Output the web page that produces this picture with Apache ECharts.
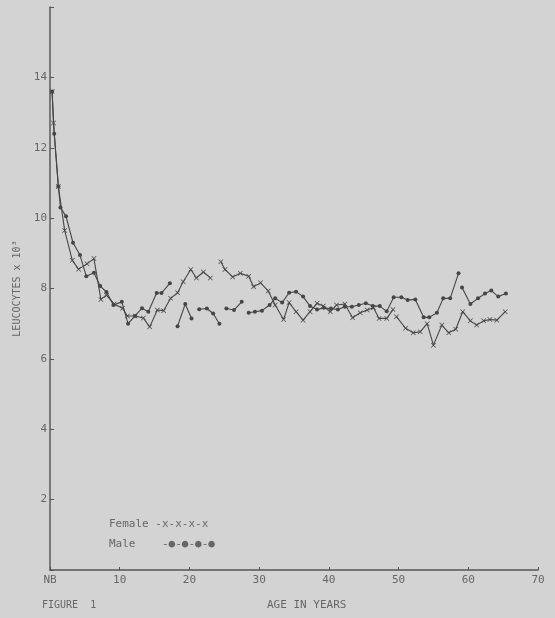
<!DOCTYPE html>
<html>
<head>
<meta charset="utf-8">
<script src="https://cdn.jsdelivr.net/npm/echarts@6/dist/echarts.min.js"></script>
<style>
html,body{margin:0;padding:0;background:#d3d3d3;}
#c{width:555px;height:618px;}
</style>
</head>
<body>
<div id="c"></div>
<script>
// ---- data ----
const xTicks = [0, 10, 20, 30, 40, 50, 60, 70];      // 0 shown as "NB"
const yTicks = [2, 4, 6, 8, 10, 12, 14];

const maleAges = [0.3, 0.6, 1.2, 1.5, 2.3, 3.3, 4.3, 5.2, 6.3, 7.2, 8.1, 9.1, 10.3, 11.2, 12.2, 13.2, 14.1, 15.3, 16, 17.2, 17.7,
  18.3, 19.4, 20.3, 20.8, 21.4, 22.5, 23.4, 24.3, 24.8, 25.3, 26.4, 27.5, 28, 28.5, 29.4, 30.4, 31.5, 32.3, 33.3, 34.3, 35.3, 36.3,
  37.3, 38.3, 39.3, 40.3, 41.3, 42.3, 43.3, 44.3, 45.3, 46.3, 47.3, 48.3, 49.3, 50.4, 51.3, 52.4, 53.6, 54.4, 55.5, 56.4, 57.4, 58.6, 58.9,
  59.1, 60.3, 61.4, 62.4, 63.3, 64.3, 65.4];
const maleValues = [13.6, 12.4, 10.9, 10.3, 10.05, 9.3, 8.95, 8.35, 8.45, 8.07, 7.9, 7.53, 7.62, 7.0, 7.22, 7.44, 7.34, 7.87, 7.87, 8.15, null,
  6.93, 7.56, 7.15, null, 7.41, 7.43, 7.29, 7.0, null, 7.43, 7.39, 7.62, null, 7.31, 7.34, 7.37, 7.53, 7.72, 7.6, 7.88, 7.91, 7.77,
  7.5, 7.4, 7.45, 7.43, 7.4, 7.48, 7.48, 7.53, 7.58, 7.5, 7.5, 7.35, 7.75, 7.75, 7.67, 7.69, 7.18, 7.18, 7.31, 7.72, 7.72, 8.43, null,
  8.03, 7.56, 7.72, 7.86, 7.94, 7.77, 7.86];

const femaleAges = [0.3, 0.5, 1.2, 2.1, 3.2, 4.1, 5.3, 6.3, 7.3, 8.1, 9.2, 10.4, 11.1, 12.2, 13.4, 14.3, 15.4, 16.3, 17.3, 18.3, 19.1, 20.2, 21, 22, 23, 23.8,
  24.5, 25.1, 26.2, 27.3, 28.5, 29.2, 30.2, 31.3, 32.3, 33.5, 34.3, 35.3, 36.3, 37.3, 38.3, 39.2, 40.2, 41.1, 42.3, 43.4, 44.5, 45.5, 46.4, 47.2, 48.3, 49.2, 49.5,
  49.7, 51, 52.1, 53.1, 54.1, 55, 56.2, 57.2, 58.2, 59.2, 60.3, 61.2, 62.2, 63.1, 64.1, 65.3];
const femaleValues = [13.6, 12.7, 10.9, 9.65, 8.8, 8.55, 8.7, 8.85, 7.69, 7.81, 7.56, 7.44, 7.22, 7.22, 7.16, 6.91, 7.39, 7.37, 7.72, 7.88, 8.19, 8.54, 8.3, 8.47, 8.3, null,
  8.76, 8.54, 8.33, 8.43, 8.35, 8.05, 8.16, 7.93, 7.53, 7.12, 7.6, 7.34, 7.1, 7.34, 7.58, 7.5, 7.34, 7.53, 7.56, 7.17, 7.31, 7.39, 7.45, 7.15, 7.15, 7.4, null,
  7.2, 6.87, 6.74, 6.77, 7.0, 6.39, 6.96, 6.74, 6.84, 7.34, 7.08, 6.96, 7.08, 7.12, 7.1, 7.34];

const pair = (xs, ys) => xs.map((x, i) => [x, ys[i]]);

const FONT = '"DejaVu Sans Mono", "Liberation Mono", monospace';
const INK = '#454545';
const TXT = '#666666';
const crossPath = 'path://M0,1L1,0L5,4L9,0L10,1L6,5L10,9L9,10L5,6L1,10L0,9L4,5Z';

const chart = echarts.init(document.getElementById('c'), null, {renderer: 'canvas'});
chart.setOption({
  backgroundColor: '#d3d3d3',
  animation: false,
  grid: {left: 50, right: 17, top: 7, bottom: 48},
  xAxis: {
    type: 'value', min: 0, max: 70, interval: 10,
    axisLine: {lineStyle: {color: '#555', width: 1.5}},
    axisTick: {show: true, inside: true, length: 3, lineStyle: {color: '#555'}},
    splitLine: {show: false},
    axisLabel: {
      color: TXT, fontFamily: FONT, fontSize: 11, margin: 5,
      formatter: v => xTicks.includes(v) ? (v === 0 ? 'NB' : String(v)) : ''
    }
  },
  yAxis: {
    type: 'value', min: 0, max: 16, interval: 2,
    axisLine: {show: true, lineStyle: {color: '#5a5a5a', width: 1.5}},
    axisTick: {show: true, inside: true, length: 4, lineStyle: {color: '#555'}},
    splitLine: {show: false},
    axisLabel: {
      color: TXT, fontFamily: FONT, fontSize: 11, margin: 3,
      formatter: v => yTicks.includes(v) ? String(v) : ''
    },
    name: 'LEUCOCYTES x 10³', nameLocation: 'middle', nameGap: 28, nameRotate: 90,
    nameTextStyle: {color: TXT, fontFamily: FONT, fontSize: 10}
  },
  series: [
    {
      name: 'Male', type: 'line', data: pair(maleAges, maleValues),
      connectNulls: false, symbol: 'circle', symbolSize: 4,
      lineStyle: {color: INK, width: 1.1}, itemStyle: {color: INK}
    },
    {
      name: 'Female', type: 'line', data: pair(femaleAges, femaleValues),
      connectNulls: false, symbol: crossPath, symbolSize: 5,
      lineStyle: {color: INK, width: 1.1}, itemStyle: {color: INK}
    }
  ],
  graphic: [
    {type: 'text', left: 109, top: 519, style: {text: 'Female -x-x-x-x', fill: TXT, font: '11px ' + FONT}},
    {type: 'text', left: 109, top: 539, style: {text: 'Male    -●-●-●-●', fill: TXT, font: '11px ' + FONT}},
    {type: 'text', left: 42, top: 600, style: {text: 'FIGURE  1', fill: TXT, font: '10px ' + FONT}},
    {type: 'text', left: 267, top: 600, style: {text: 'AGE IN YEARS', fill: TXT, font: '11px ' + FONT}}
  ]
});
</script>
</body>
</html>
